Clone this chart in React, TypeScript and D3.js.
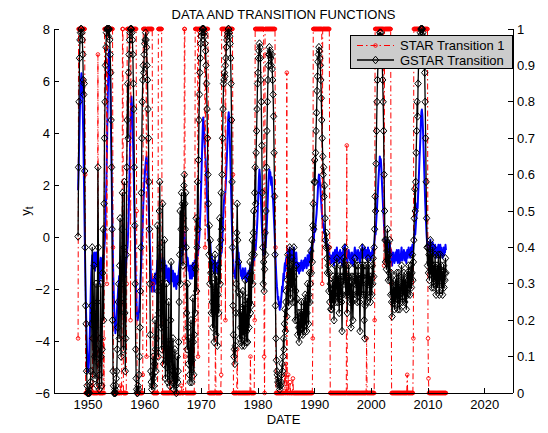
import React from 'react';
import * as d3 from 'd3';

// monthly observations starting April 1948
const START_YEAR = 1948.25;
const MONTH = 1 / 12;

const xTicks = [1950, 1960, 1970, 1980, 1990, 2000, 2010, 2020];
const leftTicks = [-6, -4, -2, 0, 2, 4, 6, 8];
const rightTicks = [0, 0.1, 0.2, 0.3, 0.4, 0.5, 0.6, 0.7, 0.8, 0.9, 1];
const rightTickLabels = ['0', '0.1', '0.2', '0.3', '0.4', '0.5', '0.6', '0.7', '0.8', '0.9', '1'];
const legendLabels = ['STAR Transition 1', 'GSTAR Transition'];

// y_t (left axis)
const yt = [
  1.8, 2.5, 3.4, 4.2, 5.0, 5.6, 6.0, 6.3, 6.1,
  5.6, 4.8, 3.9, 2.7, 1.5, 0.2, -1.0, -2.1, -3.0, -3.8, -4.4, -4.9,
  -5.2, -5.1, -4.8, -4.3, -3.6, -2.8, -2.0, -1.4, -1.0, -0.7, -0.9, -1.2,
  -0.8, -0.6, -1.0, -1.3, -0.9, -0.6, -0.8, -1.1, -0.7, -0.5, -0.9, -1.4,
  -1.8, -1.5, -1.1, -0.8, -1.2, -1.6, -1.3, -0.9, -0.7, -1.0, -0.6, -0.3,
  0.0, 0.6, 1.3, 2.2, 3.3, 4.4, 5.5, 6.4, 7.0, 7.2, 6.8, 6.0,
  5.0, 3.8, 2.5, 1.2, 0.0, -1.0, -1.8, -2.5, -3.0, -3.4, -3.7, -3.5,
  -3.2, -3.0, -2.6, -2.3, -2.0, -1.8, -1.5, -1.7, -1.4, -1.1, -1.3, -1.6,
  -1.2, -0.9, -1.1, -1.4, -1.0, -0.8, -1.2, -1.5, -1.3, -1.0, -0.7, -0.5,
  -0.3, 0.2, 0.8, 1.6, 2.5, 3.4, 4.3, 5.0, 5.4, 5.1, 4.6, 4.0,
  3.2, 2.3, 1.3, 0.3, -0.7, -1.5, -2.2, -2.7, -3.0, -3.2, -3.1, -2.9,
  -2.9, -2.6, -2.2, -1.8, -1.3, -0.9, -0.4, 0.1, 0.6, 1.2, 1.6, 2.1,
  2.3, 2.6, 2.8, 3.0, 3.1, 2.9, 2.5, 2.0, 1.5, 0.9, 0.3, -0.3,
  -0.9, -1.4, -1.8, -2.1, -2.0, -1.8, -1.6, -1.9, -2.1, -1.7, -1.4, -1.6,
  -1.8, -1.5, -1.2, -0.9, -1.1, -1.4, -1.2, -0.8, -0.6, -0.9, -1.2, -1.0,
  -1.3, -1.0, -0.8, -1.1, -1.4, -1.2, -0.9, -1.3, -1.6, -1.4, -1.1, -1.3,
  -1.5, -1.7, -1.4, -1.2, -1.5, -1.8, -1.6, -1.3, -1.1, -1.4, -1.7, -1.5,
  -1.3, -1.6, -1.9, -1.7, -1.4, -1.6, -1.8, -2.0, -1.7, -1.5, -1.8, -1.6,
  -1.4, -1.2, -1.0, -0.8, -1.1, -0.9, -0.6, -0.4, -0.7, -0.5, -0.2, 0.0,
  0.2, -0.1, -0.4, -0.2, -0.6, -0.9, -1.1, -0.8, -1.0, -1.3, -1.1, -1.4,
  -1.6, -1.3, -1.1, -1.4, -1.6, -1.3, -1.0, -1.2, -1.5, -1.2, -0.9, -1.1,
  -0.9, -0.7, -1.0, -0.8, -0.5, -0.7, -0.4, -0.2, 0.1, 0.5, 1.0, 1.6,
  2.2, 2.9, 3.6, 4.2, 4.6, 4.4, 4.0, 3.6, 3.2, 3.0, 2.6, 2.1,
  1.5, 1.0, 0.5, 0.1, -0.3, -0.1, -0.5, -0.2, -0.6, -0.9, -0.7, -1.0,
  -1.2, -0.9, -1.1, -1.4, -1.2, -0.9, -1.1, -1.3, -1.0, -1.2, -1.4, -1.1,
  -0.9, -1.1, -0.8, -0.6, -0.9, -0.7, -0.4, -0.6, -0.3, 0.1, 0.6, 1.0,
  1.4, 1.6, 1.5, 1.8, 2.1, 2.6, 3.0, 3.5, 4.1, 4.6, 4.8, 4.5,
  4.0, 3.3, 2.6, 1.8, 1.0, 0.3, -0.3, -0.8, -1.1, -1.4, -1.3, -1.5,
  -1.6, -1.3, -1.0, -0.6, -0.3, -0.5, -0.8, -0.6, -0.9, -1.2, -1.0, -1.3,
  -1.5, -1.3, -1.6, -1.4, -1.2, -1.5, -1.3, -1.6, -1.4, -1.2, -1.5, -1.7,
  -1.6, -1.4, -1.7, -1.5, -1.3, -1.6, -1.4, -1.2, -1.4, -1.1, -1.3, -1.0,
  -0.9, -1.1, -0.8, -0.6, -0.9, -0.5, -0.3, -0.5, -0.2, 0.1, 0.4, 0.8,
  1.3, 1.8, 2.3, 2.6, 2.4, 2.0, 1.5, 1.0, 0.5, 0.1, -0.3, -0.6,
  -0.4, -0.7, -0.5, -0.2, -0.4, -0.1, 0.2, 0.6, 1.1, 1.6, 2.1, 2.4,
  2.6, 2.4, 2.5, 2.2, 2.0, 2.3, 1.9, 1.6, 1.4, 1.0, 0.6, 0.2,
  -0.3, -0.8, -1.2, -1.6, -1.9, -2.1, -2.4, -2.3, -2.6, -2.5, -2.8, -2.6,
  -2.7, -2.4, -2.2, -1.9, -2.1, -1.7, -1.4, -1.6, -1.2, -1.0, -1.3, -0.9,
  -0.8, -1.1, -0.7, -0.5, -0.8, -1.0, -0.7, -0.4, -0.6, -0.9, -0.6, -0.8,
  -0.5, -0.7, -0.9, -0.6, -0.4, -0.7, -0.9, -1.1, -0.8, -0.6, -0.9, -1.1,
  -1.3, -1.0, -1.2, -1.4, -1.2, -1.0, -1.3, -1.1, -0.9, -1.2, -1.0, -1.3,
  -1.1, -0.9, -1.2, -1.0, -0.8, -1.1, -0.9, -1.2, -1.0, -0.7, -0.9, -1.1,
  -0.8, -0.6, -0.9, -0.7, -0.4, -0.6, -0.3, -0.5, -0.2, 0.0, -0.2, 0.2,
  0.4, 0.2, 0.5, 0.7, 0.9, 1.2, 1.5, 1.9, 2.2, 2.4, 2.3, 2.1,
  1.9, 1.6, 1.3, 1.0, 0.8, 0.6, 0.4, 0.5, 0.2, 0.3, 0.0, -0.2,
  -0.3, -0.1, -0.4, -0.6, -0.3, -0.5, -0.8, -0.6, -0.9, -0.7, -1.0, -0.8,
  -1.0, -0.7, -0.9, -0.6, -0.8, -1.1, -0.8, -0.5, -0.7, -0.9, -0.6, -0.4,
  -0.7, -0.9, -0.6, -0.8, -1.0, -0.7, -0.5, -0.8, -0.6, -0.9, -1.1, -0.8,
  -0.6, -0.4, -0.7, -0.5, -0.3, -0.6, -0.8, -0.5, -0.7, -1.0, -0.8, -0.6,
  -0.5, -0.8, -0.6, -0.9, -0.7, -1.0, -0.8, -0.6, -0.9, -1.1, -0.8, -0.7,
  -0.6, -0.4, -0.7, -0.5, -0.8, -0.6, -0.9, -0.7, -0.5, -0.8, -0.6, -0.9,
  -1.0, -0.7, -0.5, -0.8, -0.6, -0.3, -0.6, -0.8, -0.5, -0.7, -0.4, -0.6,
  -0.8, -0.5, -0.7, -0.9, -0.6, -0.4, -0.7, -0.5, -0.8, -0.6, -0.9, -0.7,
  -0.6, -0.8, -0.5, -0.7, -0.4, -0.6, -0.3, -0.1, 0.2, 0.1, 0.5, 0.8,
  1.1, 1.5, 1.8, 2.2, 2.5, 2.8, 3.1, 2.9, 3.0, 2.7, 2.3, 1.9,
  1.5, 1.1, 0.8, 0.4, 0.1, -0.2, -0.4, -0.2, -0.5, -0.3, -0.1, -0.4,
  -0.6, -0.3, -0.5, -0.2, -0.6, -0.8, -0.5, -0.9, -1.1, -0.8, -0.6, -0.9,
  -0.7, -1.0, -0.8, -0.6, -0.9, -0.7, -0.5, -0.8, -1.0, -0.7, -0.5, -0.8,
  -1.0, -0.7, -0.9, -0.6, -0.4, -0.7, -0.9, -0.6, -0.8, -0.5, -0.7, -0.9,
  -0.6, -0.8, -1.0, -0.7, -0.5, -0.8, -0.6, -0.4, -0.7, -0.5, -0.8, -0.6,
  -0.4, -0.7, -0.5, -0.3, -0.6, -0.4, -0.2, 0.0, 0.3, 0.1, 0.4, 0.7,
  0.9, 1.3, 1.1, 1.6, 2.0, 2.5, 3.0, 3.4, 3.9, 4.4, 4.8, 4.9,
  4.7, 4.3, 3.8, 3.2, 2.6, 2.0, 1.4, 0.9, 0.5, 0.1, -0.2, -0.4,
  -0.2, -0.5, -0.3, -0.6, -0.4, -0.1, -0.5, -0.3, -0.7, -0.4, -0.2, -0.5,
  -0.7, -0.4, -0.6, -0.3, -0.5, -0.8, -0.6, -0.4, -0.7, -0.5, -0.3, -0.6,
  -0.8, -0.5, -0.3, -0.6, -0.4, -0.7, -0.5, -0.8, -0.6, -0.4, -0.7, -0.5,
  -0.6, -0.3, -0.5,
];

// GSTAR transition (right axis)
const gstar = [
  .43, .62, .80, .92, .97, .99, 1, 1, .99,
  .97, .93, .86, .82, .85, .61, .40, .24, .19, .06, .02, 0,
  0, 0, .01, 0, .02, .03, .06, .19, .24, .40, .15, .05,
  .22, .35, .10, .04, .18, .30, .12, .02, .25, .62, .40, .08,
  .01, .05, .15, .30, .10, .02, .12, .33, .45, .20, .52, .70,
  .80, .90, .95, .99, 1, 1, 1, .98, 1, 1, .97, .93,
  .88, .75, .62, .45, .20, .06, .02, 0, 0, .01, 0, .02,
  .04, .06, .12, .18, .25, .30, .15, .35, .48, .25, .10, .30,
  .45, .55, .32, .12, .40, .58, .22, .06, .15, .38, .62, .75,
  .85, .70, .88, .93, .97, .99, 1, 1, 1, .99, .97, .93,
  .85, .78, .62, .46, .30, .12, .04, .01, 0, 0, .02, .01,
  .05, .10, .18, .28, .40, .55, .70, .80, .86, .90, .88, .93,
  .96, .97, .99, .97, .95, .90, .86, .78, .70, .58, .45, .30,
  .16, .06, .03, .01, .02, .05, .10, .04, .02, .08, .20, .12,
  .06, .15, .32, .46, .28, .10, .22, .50, .58, .40, .18, .30,
  .12, .35, .52, .25, .08, .18, .42, .14, .04, .09, .30, .14,
  .07, .03, .12, .25, .08, .02, .05, .20, .36, .10, .03, .06,
  .15, .05, .01, .03, .12, .06, .02, 0, .04, .10, .03, .06,
  .14, .25, .38, .50, .30, .45, .55, .40, .52, .35, .48, .57,
  .60, .52, .45, .55, .40, .22, .12, .30, .18, .08, .15, .05,
  .03, .10, .20, .07, .03, .09, .26, .14, .05, .16, .35, .22,
  .34, .48, .28, .40, .58, .45, .64, .75, .82, .88, .92, .96,
  .98, .99, 1, 1, 1, 1, .99, .98, .96, .94, .90, .85,
  .78, .70, .60, .52, .38, .46, .30, .42, .33, .22, .36, .25,
  .18, .30, .22, .14, .25, .38, .28, .16, .32, .24, .13, .27,
  .35, .22, .40, .48, .30, .42, .55, .45, .60, .70, .78, .85,
  .86, .88, .87, .90, .92, .95, .97, .98, .99, 1, 1, .99,
  .98, .96, .92, .85, .75, .58, .40, .24, .16, .10, .12, .08,
  .13, .22, .30, .44, .52, .42, .28, .36, .22, .15, .27, .18,
  .14, .22, .13, .19, .28, .16, .24, .13, .20, .31, .18, .14,
  .17, .26, .14, .21, .32, .18, .25, .36, .22, .33, .24, .38,
  .42, .30, .44, .50, .38, .55, .62, .52, .66, .72, .78, .85,
  .88, .92, .94, .96, .95, .92, .86, .80, .68, .55, .40, .30,
  .36, .28, .34, .44, .38, .50, .62, .72, .80, .86, .90, .93,
  .95, .93, .94, .92, .90, .93, .89, .86, .82, .76, .66, .54,
  .38, .24, .15, .09, .06, .05, .03, .04, .02, .03, .01, .02,
  .02, .03, .05, .08, .06, .10, .15, .12, .19, .23, .17, .25,
  .28, .21, .31, .38, .29, .24, .32, .40, .35, .26, .34, .29,
  .37, .31, .25, .34, .40, .32, .25, .20, .28, .35, .26, .20,
  .16, .22, .18, .14, .18, .22, .16, .19, .25, .18, .22, .16,
  .19, .25, .17, .22, .27, .19, .25, .17, .22, .30, .25, .19,
  .27, .33, .25, .30, .39, .33, .42, .36, .46, .52, .45, .58,
  .64, .58, .66, .72, .77, .83, .87, .91, .93, .95, .94, .92,
  .90, .86, .81, .75, .70, .65, .60, .62, .54, .57, .48, .42,
  .40, .44, .37, .33, .40, .35, .28, .33, .25, .30, .23, .28,
  .23, .30, .25, .32, .27, .20, .27, .35, .30, .25, .32, .37,
  .30, .25, .32, .27, .22, .30, .35, .27, .32, .25, .17, .27,
  .32, .37, .30, .35, .40, .32, .27, .35, .30, .22, .27, .32,
  .35, .27, .32, .25, .30, .18, .27, .32, .25, .20, .27, .30,
  .32, .37, .30, .35, .27, .32, .25, .30, .35, .27, .32, .25,
  .17, .30, .35, .27, .32, .40, .32, .27, .35, .20, .15, .24,
  .27, .35, .30, .25, .32, .37, .30, .35, .27, .32, .25, .30,
  .32, .27, .35, .30, .37, .32, .40, .45, .54, .50, .63, .72,
  .80, .86, .90, .94, .96, .98, .99, .98, .99, .97, .95, .91,
  .86, .80, .72, .60, .50, .42, .36, .42, .34, .39, .45, .36,
  .31, .38, .33, .42, .31, .27, .33, .25, .21, .27, .31, .25,
  .29, .23, .27, .31, .25, .29, .33, .27, .23, .29, .33, .27,
  .23, .29, .25, .31, .35, .29, .25, .31, .27, .33, .29, .25,
  .31, .27, .23, .29, .33, .27, .31, .35, .29, .33, .27, .31,
  .35, .29, .33, .38, .31, .36, .42, .48, .56, .50, .58, .66,
  .72, .80, .76, .85, .90, .94, .97, .98, .99, 1, 1, 1,
  1, .99, .98, .96, .93, .88, .80, .70, .58, .48, .40, .35,
  .40, .33, .38, .31, .36, .42, .33, .38, .29, .35, .40, .33,
  .29, .35, .31, .38, .33, .27, .31, .35, .29, .33, .38, .31,
  .27, .33, .38, .31, .35, .29, .33, .27, .31, .35, .29, .33,
  .31, .37, .33,
];

// STAR transition 1 (right axis)
const star = [
  .15, 1, 1, 1, 1, 1, 1, 1, 1,
  1, 1, 1, 1, 1, 1, .6, 0, 0, 0, 0, 0,
  0, 0, 0, 0, 0, 0, 0, 0, .02, 0, .15, 0,
  0, 0, 0, 0, 0, 0, 0, 0, 0, .93, .02, 0,
  0, 0, 0, 0, 0, 0, 0, 0, 0, .15, 0, 1,
  1, 1, 1, 1, .3, 1, 1, 1, 1, 1, 1, 1,
  1, 1, 1, 1, 1, .4, 0, 0, 0, 0, 0, 0,
  0, 0, 0, 0, 0, 0, 0, 0, 0, .02, 0, 0,
  .15, 1, 1, 0, 0, 0, 0, 0, 0, 0, .3, 1,
  1, 1, 1, 1, 1, 1, .2, 1, 1, 1, 1, 1,
  1, 1, 1, 1, 1, 1, 1, .5, 0, 0, 0, 0,
  0, 0, 0, 0, 0, 0, 0, 0, .05, 1, 1, 1,
  1, 1, 1, 1, .1, 1, 1, 1, 1, 1, 1, 1,
  1, 1, 1, 1, 1, .3, 0, 0, 0, 0, 0, 0,
  0, 0, 0, 0, .1, 1, 1, 1, 1, 1, 1, 1,
  1, .2, 0, 0, 0, 0, 0, 0, 0, 0, 0, 0,
  0, 0, 0, 0, 0, 0, .03, 0, 0, 0, 0, 0,
  0, 0, 0, 0, 0, 0, 0, 0, 0, 0, 0, 0,
  0, 0, 0, 0, 0, 0, .02, 0, 0, 0, 0, .15,
  1, 1, .1, 0, 0, 0, 0, 0, 0, 0, 0, 0,
  0, 0, 0, 0, 0, 0, 0, 0, 0, 0, .2, 1,
  1, 1, 1, 1, 1, .1, 1, 1, 1, 1, 1, 1,
  1, 1, 1, 1, 1, 1, 1, 1, .4, 1, 1, 1,
  1, 1, 1, .7, 0, 0, 0, 0, 0, 0, 0, 0,
  0, 0, 0, 0, 0, 0, .15, 0, 0, 0, 0, 0,
  0, 0, 0, 0, 0, 0, .05, 1, 1, 1, 1, 1,
  1, 1, 1, .2, 1, 1, 1, 1, 1, 1, 1, 1,
  1, 1, 1, 1, 1, 1, 1, .6, 0, 0, 0, 0,
  0, 0, 0, 0, .12, 0, 0, 0, 0, 0, 0, 0,
  0, 0, 0, 0, 0, 0, 0, 0, 0, 0, 0, 0,
  0, 0, 0, 0, 0, 0, 0, 0, .1, 0, 0, 0,
  0, 0, 0, 0, 0, .2, 1, 1, 1, 1, 1, 1,
  1, 1, 1, 1, 1, 1, 1, 1, 1, 1, 1, 1,
  1, .1, 0, 1, 1, 1, 1, 1, 1, 1, 1, 1,
  1, 1, 1, 1, 1, 1, 1, 1, 1, 1, 1, 1,
  1, .4, 0, 0, 0, 0, 0, 0, 0, 0, 0, 0,
  0, 0, 0, 0, 0, 0, 0, 0, .05, 0, 0, .08,
  0, .88, 0, 0, .05, 0, 0, 0, .03, 0, 0, 0,
  0, 0, .04, 0, 0, 0, 0, 0, 0, 0, 0, 0,
  0, 0, 0, 0, 0, 0, 0, 0, 0, 0, 0, 0,
  0, 0, 0, 0, 0, 0, 0, 0, 0, 0, 0, 0,
  0, 0, 0, 0, 0, 0, 0, 0, .15, 1, 1, 1,
  1, 1, 1, 1, 1, 1, 1, 1, 1, 1, 1, 1,
  1, 1, 1, 1, .3, 1, 1, 1, 1, 1, 1, 1,
  1, 1, 1, 1, 1, 1, 1, 1, .4, 0, 0, 0,
  0, 0, 0, 0, 0, 0, 0, 0, 0, 0, 0, 0,
  0, 0, 0, 0, 0, 0, 0, 0, 0, 0, 0, 0,
  0, 0, 0, 0, 0, 0, 0, 0, .68, 0, 0, 0,
  0, 0, 0, 0, 0, 0, 0, 0, 0, 0, 0, 0,
  0, 0, 0, 0, 0, 0, 0, 0, 0, 0, 0, 0,
  0, 0, 0, 0, 0, 0, 0, 0, 0, 0, 0, 0,
  0, 0, .15, 0, 0, 0, 0, 0, 0, 0, 0, 0,
  0, 0, 0, 0, 0, 0, 0, .2, 1, 1, 1, 1,
  1, 1, 1, 1, 1, 1, 1, 1, 1, 1, 1, 1,
  1, 1, 1, .35, 1, 1, 1, 1, 1, 1, 1, 1,
  1, 1, 1, 1, 1, 1, .3, 0, 0, 0, 0, 0,
  0, 0, 0, 0, 0, 0, 0, 0, 0, 0, 0, 0,
  0, 0, 0, 0, 0, 0, 0, 0, 0, 0, 0, 0,
  0, 0, 0, 0, .05, 0, 0, 0, 0, 0, 0, 0,
  0, 0, 0, 0, 0, .15, 1, 1, 1, 1, 1, 1,
  1, 1, 1, 1, 1, 1, 1, 1, 1, 1, 1, 1,
  1, 1, 1, 1, 1, 1, 1, 1, 1, 1, 1, 1,
  .15, .04, 0, 0, 0, 0, 0, 0, 0, 0, 0, 0,
  0, 0, 0, 0, 0, 0, 0, 0, 0, 0, 0, 0,
  0, 0, 0, 0, 0, 0, 0, 0, 0, 0, 0, 0,
  0, 0, 0,
];

const FONT = "'Liberation Sans', Arial, Helvetica, sans-serif";

export default function App() {
  const W = 548;
  const H = 433;
  const L = 54, R = 513, T = 29, B = 393;
  const x = d3.scaleLinear().domain([1944, 2025]).range([L, R]);
  const yL = d3.scaleLinear().domain([-6, 8]).range([B, T]);
  const yR = d3.scaleLinear().domain([0, 1]).range([B, T]);
  const date = (i: number) => START_YEAR + i * MONTH;

  const blueLine = d3.line<number>().x((_, i) => x(date(i))).y((d) => yL(d));
  const rightLine = d3.line<number>().x((_, i) => x(date(i))).y((d) => yR(d));

  const diamond = 'M0,-3.8 L3.2,0 L0,3.8 L-3.2,0 Z';
  const tickLen = 5;
  const dash = '6,3,1.5,3';
  const fs = 13;

  return (
    <svg width={W} height={H} style={{ position: 'absolute', left: 0, top: 0, background: '#fff' }} fontFamily={FONT}>
      <rect x={0} y={0} width={W} height={H} fill="#fff" />
      {/* blue data */}
      <path d={blueLine(yt) || ''} fill="none" stroke="#0000ff" strokeWidth={2} strokeLinejoin="round" />
      {/* STAR transition */}
      <path d={rightLine(star) || ''} fill="none" stroke="#ff0000" strokeWidth={1} strokeDasharray={dash} />
      {star.map((d, i) => (
        <circle key={'s' + i} cx={x(date(i))} cy={yR(d)} r={1.8} fill="none" stroke="#ff0000" strokeWidth={0.9} />
      ))}
      {/* GSTAR transition */}
      <path d={rightLine(gstar) || ''} fill="none" stroke="#000" strokeWidth={1.3} strokeLinejoin="round" />
      {gstar.map((d, i) => (
        <path key={'g' + i} d={diamond} transform={`translate(${x(date(i))},${yR(d)})`} fill="none" stroke="#000" strokeWidth={1} />
      ))}

      {/* axes */}
      <g stroke="#000" strokeWidth={1} fill="none" shapeRendering="crispEdges">
        <line x1={L} y1={T} x2={L} y2={B} />
        <line x1={R} y1={T} x2={R} y2={B} />
        <line x1={L} y1={B} x2={R} y2={B} />
        {xTicks.map((t) => (
          <line key={'xt' + t} x1={x(t)} x2={x(t)} y1={B} y2={B - tickLen} />
        ))}
        {leftTicks.map((t) => (
          <line key={'lt' + t} x1={L} x2={L + tickLen} y1={yL(t)} y2={yL(t)} />
        ))}
        {rightTicks.map((t) => (
          <line key={'rt' + t} x1={R} x2={R - tickLen} y1={yR(t)} y2={yR(t)} />
        ))}
      </g>
      <g fontSize={fs} fill="#000">
        {xTicks.map((t) => (
          <text key={'xl' + t} x={x(t)} y={B + 16} textAnchor="middle">{t}</text>
        ))}
        {leftTicks.map((t) => (
          <text key={'ll' + t} x={L - 4} y={yL(t) + 4.5} textAnchor="end">{t < 0 ? '\u2212' + Math.abs(t) : String(t)}</text>
        ))}
        {rightTicks.map((t, i) => (
          <text key={'rl' + t} x={R + 4} y={yR(t) + 4.5} textAnchor="start">{rightTickLabels[i]}</text>
        ))}
        <text x={(L + R) / 2} y={424} textAnchor="middle">DATE</text>
        <text x={(L + R) / 2} y={19} textAnchor="middle">DATA AND TRANSITION FUNCTIONS</text>
        <text transform={`translate(30,${(T + B) / 2}) rotate(-90)`} textAnchor="middle">
          y<tspan fontSize={10} dy={3}>t</tspan>
        </text>
      </g>

      {/* legend */}
      <g>
        <rect x={350} y={35} width={162} height={33} fill="#cccccc" stroke="#000" strokeWidth={1} shapeRendering="crispEdges" />
        <line x1={357} x2={394} y1={45.5} y2={45.5} stroke="#ff0000" strokeWidth={1} strokeDasharray={dash} />
        <circle cx={375.5} cy={45.5} r={1.8} fill="none" stroke="#ff0000" strokeWidth={0.9} />
        <line x1={357} x2={394} y1={60} y2={60} stroke="#000" strokeWidth={1.3} />
        <path d={diamond} transform="translate(375.5,60)" fill="none" stroke="#000" strokeWidth={1} />
        <text x={400} y={50} fontSize={fs}>{legendLabels[0]}</text>
        <text x={400} y={64.5} fontSize={fs}>{legendLabels[1]}</text>
      </g>
    </svg>
  );
}
